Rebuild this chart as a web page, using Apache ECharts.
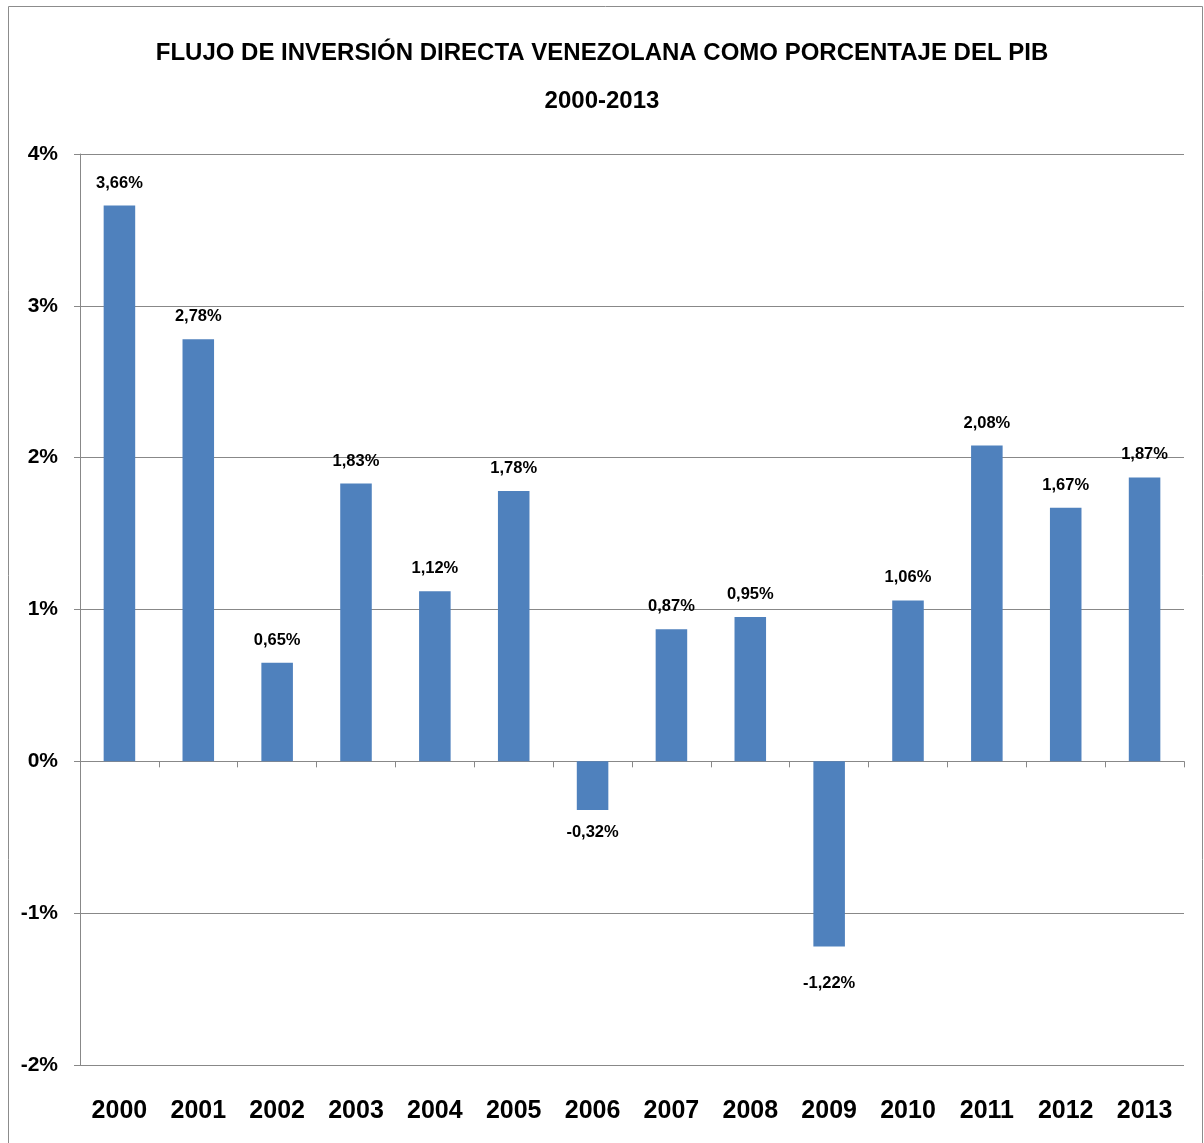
<!DOCTYPE html>
<html><head><meta charset="utf-8">
<script src="https://cdn.jsdelivr.net/npm/echarts@6/dist/echarts.min.js"></script>
<style>html,body{margin:0;padding:0;background:#fff}#c{width:1204px;height:1143px}</style>
</head><body><div id="c"></div>
<script>
const years = ['2000','2001','2002','2003','2004','2005','2006','2007','2008','2009','2010','2011','2012','2013'];
const values = [3.66, 2.78, 0.65, 1.83, 1.12, 1.78, -0.32, 0.87, 0.95, -1.22, 1.06, 2.08, 1.67, 1.87];
const titleLines = ['FLUJO DE INVERSIÓN DIRECTA VENEZOLANA COMO PORCENTAJE DEL PIB', '2000-2013'];
const FONT = '"Liberation Sans", Arial, sans-serif';

const chart = echarts.init(document.getElementById('c'), null, {renderer: 'canvas'});
chart.setOption({
  backgroundColor: '#fff',
  animation: false,
  graphic: [{
    type: 'rect', shape: {x: 8.5, y: 6.5, width: 1194, height: 1160},
    style: {fill: 'none', stroke: '#8c8c8c', lineWidth: 1}, silent: true
  }],
  title: {
    text: titleLines.join('\n'),
    left: 'center', top: 24,
    textStyle: {fontFamily: FONT, fontWeight: 'bold', fontSize: 24, color: '#000', lineHeight: 48}
  },
  grid: {left: 80, right: 20, top: 154, bottom: 78, containLabel: false},
  xAxis: [{
    type: 'category', data: years, position: 'bottom',
    axisLine: {show: false, onZero: false}, axisTick: {show: false},
    axisLabel: {interval: 0, fontFamily: FONT, fontWeight: 'bold', fontSize: 25, color: '#000', margin: 34}
  }, {
    type: 'category', data: years, position: 'top',
    axisLine: {show: true, onZero: true, lineStyle: {color: '#888', width: 1}},
    axisTick: {show: true, inside: true, length: 6, lineStyle: {color: '#888'}},
    axisLabel: {show: false}
  }],
  yAxis: {
    type: 'value', min: -2, max: 4, interval: 1,
    axisLine: {show: true, lineStyle: {color: '#888'}},
    axisTick: {show: true, length: 6, lineStyle: {color: '#888'}},
    splitLine: {lineStyle: {color: '#888', width: 1}},
    axisLabel: {formatter: v => v + '%', fontFamily: FONT, fontWeight: 'bold', fontSize: 21, color: '#000', margin: 22}
  },
  series: [{
    type: 'bar', xAxisIndex: 0,
    data: values.map(v => ({
      value: v,
      label: {position: v >= 0 ? 'top' : 'bottom', distance: v >= 0 ? 14 : (v < -1 ? 28 : 14)}
    })),
    barWidth: '40%',
    itemStyle: {color: '#4F81BD'},
    label: {
      show: true,
      formatter: p => p.value.toFixed(2).replace('.', ',') + '%',
      fontFamily: FONT, fontWeight: 'bold', fontSize: 16.5, color: '#000'
    }
  }]
});
</script></body></html>
